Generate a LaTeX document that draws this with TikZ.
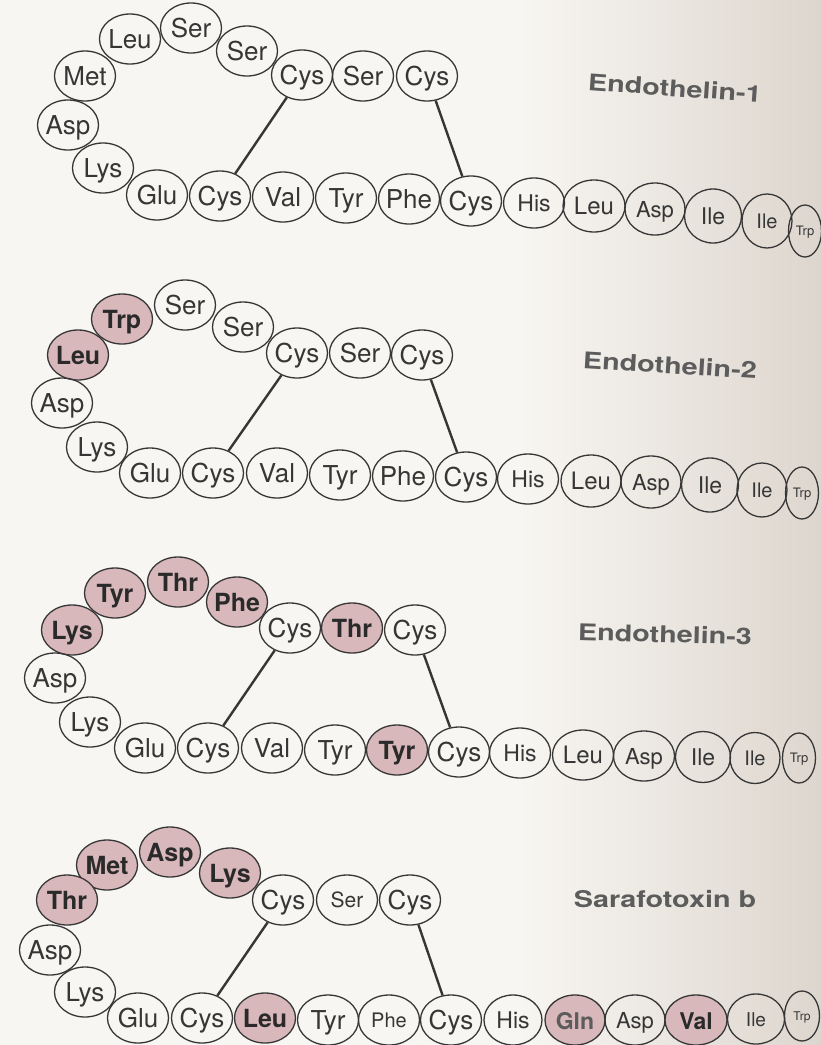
\documentclass[tikz,border=0pt]{standalone}
\usepackage{fontspec}
\usepackage{graphicx}
\setmainfont{TeX Gyre Heros}
\usetikzlibrary{shapes.geometric}
\definecolor{pagel}{HTML}{F8F6F2}
\definecolor{pager}{HTML}{DDD6CE}
\definecolor{ink}{HTML}{363636}
\definecolor{inkb}{HTML}{2A2A2A}
\definecolor{rose}{HTML}{D9B8BC}
\definecolor{ttl}{HTML}{5C5C5C}
\begin{document}
\begin{tikzpicture}[x=1pt,y=-1pt,
  fs/.style 2 args={font=\fontsize{#1}{#1}\selectfont, text height=#2, text depth=0pt},
  aa/.style={ellipse, draw=ink, line width=1.3pt, minimum width=61pt, minimum height=50pt,
             inner sep=-4pt, text=ink, fs={26}{18.7pt}},
  sh/.style={aa, fill=rose, text=inkb, font=\fontsize{25}{25}\selectfont\bfseries},
  ile1/.style={aa, minimum width=57pt, minimum height=54pt, fs={23}{16.5pt}},
  ile2/.style={aa, minimum width=50pt, minimum height=54pt, fs={20}{14.5pt}},
  trp/.style={aa, minimum width=33pt, minimum height=52pt, inner sep=-8pt, fs={13}{9.5pt}},
  bridge/.style={draw=ink, line width=2.4pt},
  ttlsty/.style={text=ttl, font=\fontsize{23}{23}\selectfont\bfseries, inner sep=0pt}]
\useasboundingbox (0,0) rectangle (821,1045);
\fill[pagel] (0,0) rectangle (520,1045);
\shade[left color=pagel, right color=pager] (519,0) rectangle (821,1045);

% ---------------- Endothelin-1
\node[aa] (A1) at (427,76) {Cys};
\node[aa] (A2) at (363,76) {Ser};
\node[aa] (A3) at (302,75) {Cys};
\node[aa] (A4) at (247,51) {Ser};
\node[aa] (A5) at (191,28) {Ser};
\node[aa] (A6) at (130,39) {Leu};
\node[aa] (A7) at (85,76) {Met};
\node[aa] (A8) at (68,125) {Asp};
\node[aa] (A9) at (103,168) {Lys};
\node[aa] (A10) at (157,195) {Glu};
\node[aa] (A11) at (220,196) {Cys};
\node[aa] (A12) at (283,197) {Val};
\node[aa] (A13) at (346,198) {Tyr};
\node[aa] (A14) at (409,199) {Phe};
\node[aa] (A15) at (471,201) {Cys};
\node[aa, fs={23}{16.5pt}] (A16) at (534,203) {His};
\node[aa, fs={24}{17pt}, minimum width=62pt, minimum height=52pt] (A17) at (594,206) {Leu};
\node[aa, fs={22}{16pt}, minimum width=60pt, minimum height=52pt] (A18) at (655,209) {Asp};
\node[ile1] (A19) at (713,216) {Ile};
\node[ile2] (A20) at (767,221) {Ile};
\node[trp] (A21) at (805,231) {Trp};
\draw[bridge] (A3) -- (A11);
\draw[bridge] (A1) -- (A15);
\node[ttlsty, rotate=-4] (T1) at (675,88) {\scalebox{1.25}[1]{Endothelin-1}};

% ---------------- Endothelin-2
\node[aa] (B1) at (422,355) {Cys};
\node[aa] (B2) at (360,353) {Ser};
\node[aa] (B3) at (297,353) {Cys};
\node[aa] (B4) at (243,327) {Ser};
\node[aa] (B5) at (185,305) {Ser};
\node[sh] (B6) at (122,319) {Trp};
\node[sh] (B7) at (78,355) {Leu};
\node[aa] (B8) at (62,403) {Asp};
\node[aa] (B9) at (97,447) {Lys};
\node[aa] (B10) at (150,473) {Glu};
\node[aa] (B11) at (213,473) {Cys};
\node[aa] (B12) at (277,473) {Val};
\node[aa] (B13) at (340,475) {Tyr};
\node[aa] (B14) at (403,476) {Phe};
\node[aa] (B15) at (466,477) {Cys};
\node[aa, fs={23}{16.5pt}] (B16) at (528,479) {His};
\node[aa, fs={24}{17pt}, minimum width=60pt, minimum height=52pt] (B17) at (591,481) {Leu};
\node[aa, fs={22}{16pt}, minimum width=60pt, minimum height=52pt] (B18) at (651,482) {Asp};
\node[ile1] (B19) at (710,485) {Ile};
\node[ile2] (B20) at (762,490) {Ile};
\node[trp] (B21) at (802,493) {Trp};
\draw[bridge] (B3) -- (B11);
\draw[bridge] (B1) -- (B15);
\node[ttlsty, rotate=-3.5] (T2) at (670,365) {\scalebox{1.25}[1]{Endothelin-2}};

% ---------------- Endothelin-3
\node[aa] (C1) at (415,630) {Cys};
\node[sh] (C2) at (352,628) {Thr};
\node[aa] (C3) at (290,628) {Cys};
\node[sh] (C4) at (237,602) {Phe};
\node[sh] (C5) at (178,582) {Thr};
\node[sh] (C6) at (115,593) {Tyr};
\node[sh] (C7) at (72,630) {Lys};
\node[aa] (C8) at (55,678) {Asp};
\node[aa] (C9) at (90,722) {Lys};
\node[aa] (C10) at (145,748) {Glu};
\node[aa] (C11) at (208,748) {Cys};
\node[aa] (C12) at (272,748) {Val};
\node[aa] (C13) at (335,750) {Tyr};
\node[sh] (C14) at (397,750) {Tyr};
\node[aa] (C15) at (459,752) {Cys};
\node[aa, fs={23}{16.5pt}] (C16) at (520,753) {His};
\node[aa, fs={24}{17pt}, minimum width=61pt] (C17) at (583,755) {Leu};
\node[aa, fs={22}{16pt}, minimum width=61pt] (C18) at (644,756) {Asp};
\node[ile1, minimum width=55pt, minimum height=51pt] (C19) at (703,757) {Ile};
\node[ile2, minimum height=51pt] (C20) at (755,758) {Ile};
\node[trp, minimum height=50pt] (C21) at (799,758) {Trp};
\draw[bridge] (C3) -- (C11);
\draw[bridge] (C1) -- (C15);
\node[ttlsty, rotate=-1.5] (T3) at (665,634) {\scalebox{1.25}[1]{Endothelin-3}};

% ---------------- Sarafotoxin b
\node[aa] (D1) at (410,900) {Cys};
\node[aa, fs={21}{15pt}] (D2) at (347,900) {Ser};
\node[aa] (D3) at (283,900) {Cys};
\node[sh] (D4) at (230,873) {Lys};
\node[sh] (D5) at (170,852) {Asp};
\node[sh] (D6) at (107,865) {Met};
\node[sh] (D7) at (67,900) {Thr};
\node[aa] (D8) at (50,950) {Asp};
\node[aa] (D9) at (85,992) {Lys};
\node[aa] (D10) at (138,1018) {Glu};
\node[aa] (D11) at (202,1018) {Cys};
\node[sh] (D12) at (265,1018) {Leu};
\node[aa] (D13) at (328,1020) {Tyr};
\node[aa, fs={20}{14.5pt}] (D14) at (389,1020) {Phe};
\node[aa] (D15) at (451,1020) {Cys};
\node[aa, fs={23}{16.5pt}, minimum width=58pt] (D16) at (513,1020) {His};
\node[sh, text=ttl, font=\fontsize{23}{23}\selectfont\bfseries, minimum width=60pt] (D17) at (575,1020) {Gln};
\node[aa, fs={22}{16pt}, minimum width=60pt] (D18) at (635,1020) {Asp};
\node[sh, font=\fontsize{23}{23}\selectfont\bfseries, minimum width=62pt] (D19) at (696,1020) {Val};
\node[aa, fs={19}{14pt}, minimum width=57pt] (D20) at (756,1019) {Ile};
\node[trp, minimum width=35pt, minimum height=50pt, fs={12}{9pt}] (D21) at (802,1016) {Trp};
\draw[bridge] (D3) -- (D11);
\draw[bridge] (D1) -- (D15);
\node[ttlsty] (T4) at (665,899) {\scalebox{1.25}[1]{Sarafotoxin b}};
\end{tikzpicture}
\end{document}
